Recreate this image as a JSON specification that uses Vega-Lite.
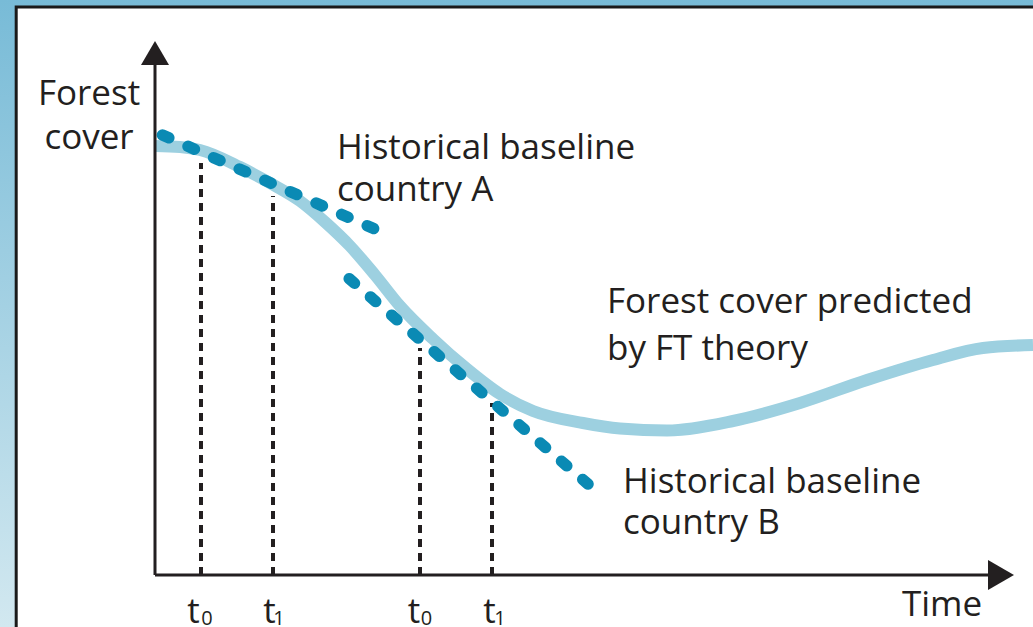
{
  "$schema": "https://vega.github.io/schema/vega-lite/v6.json",
  "width": 1033,
  "height": 627,
  "autosize": {"type": "none"},
  "padding": 0,
  "background": "#ffffff",
  "config": {"view": {"stroke": null}},
  "datasets": {
    "frame": [
      {"part": "background", "t": -15.5, "t2": 87.8, "c": 57.5, "c2": -5.2},
      {"part": "panel", "t": -13.88, "t2": 95, "c": 56.8, "c2": -10}
    ],
    "axes": [
      {"axis": "cover", "t": 0, "t2": 0, "c": 0, "c2": 51.5},
      {"axis": "time", "t": 0, "t2": 84.5, "c": 0, "c2": 0}
    ],
    "arrows": [
      {"axis": "cover", "t": 0, "c": 52.2},
      {"axis": "time", "t": 84.6, "c": 0}
    ],
    "ft": [
      {"t": 0, "c": 42.9}, {"t": 2.5, "c": 42.8}, {"t": 4.5, "c": 42.5}, {"t": 8.5, "c": 40.8},
      {"t": 11.5, "c": 39.2}, {"t": 14.5, "c": 37.4}, {"t": 17.0, "c": 35.3}, {"t": 19.5, "c": 32.9},
      {"t": 22.0, "c": 30.0}, {"t": 24.5, "c": 26.9}, {"t": 27.8, "c": 23.6}, {"t": 31.2, "c": 20.6},
      {"t": 34.5, "c": 18.1}, {"t": 37.8, "c": 16.4}, {"t": 42.8, "c": 15.2}, {"t": 46.5, "c": 14.65},
      {"t": 51.2, "c": 14.45}, {"t": 57.8, "c": 15.4}, {"t": 64.5, "c": 17.2}, {"t": 71.2, "c": 19.5},
      {"t": 77.8, "c": 21.5}, {"t": 82.8, "c": 22.7}, {"t": 87.8, "c": 23.0}
    ],
    "baselines": [
      {"country": "A", "t": 0.74, "c": 44.0}, {"country": "A", "t": 21.96, "c": 34.6},
      {"country": "B", "t": 19.42, "c": 29.63}, {"country": "B", "t": 43.68, "c": 8.77}
    ],
    "marks": [
      {"t": 4.6, "c": 0, "c2": 41.2}, {"t": 11.8, "c": 0, "c2": 37.9},
      {"t": 26.5, "c": 0, "c2": 22.7}, {"t": 33.7, "c": 0, "c2": 17.2}
    ],
    "leftLabels": [
      {"t": 18.2, "c": 41.6, "label": "Historical baseline"},
      {"t": 18.2, "c": 37.4, "label": "country A"},
      {"t": 45.2, "c": 26.2, "label": "Forest cover predicted"},
      {"t": 45.2, "c": 21.5, "label": "by FT theory"},
      {"t": 46.8, "c": 8.2, "label": "Historical baseline"},
      {"t": 46.8, "c": 4.1, "label": "country B"},
      {"t": 74.7, "c": -4.1, "label": "Time"}
    ],
    "centerLabels": [
      {"t": -6.6, "c": 47.0, "label": "Forest"},
      {"t": -6.6, "c": 42.65, "label": "cover"},
      {"t": 3.85, "c": -4.8, "label": "t"},
      {"t": 11.45, "c": -4.8, "label": "t"},
      {"t": 25.9, "c": -4.8, "label": "t"},
      {"t": 33.45, "c": -4.8, "label": "t"}
    ],
    "subs": [
      {"t": 5.2, "c": -5.0, "label": "0"},
      {"t": 12.4, "c": -5.0, "label": "1"},
      {"t": 27.15, "c": -5.0, "label": "0"},
      {"t": 34.5, "c": -5.0, "label": "1"}
    ]
  },
  "encoding": {
    "x": {"field": "t", "type": "quantitative", "scale": {"domain": [-15.5, 87.8], "nice": false, "zero": false}, "axis": null},
    "y": {"field": "c", "type": "quantitative", "scale": {"domain": [-5.2, 57.5], "nice": false, "zero": false}, "axis": null}
  },
  "layer": [
    {
      "data": {"name": "frame"},
      "transform": [{"filter": "datum.part === 'background'"}],
      "mark": {"type": "rect", "fill": {"gradient": "linear", "x1": 0, "y1": 0, "x2": 0, "y2": 1, "stops": [{"offset": 0, "color": "#78bbd7"}, {"offset": 1, "color": "#d2e8f0"}]}},
      "encoding": {"x2": {"field": "t2"}, "y2": {"field": "c2"}}
    },
    {
      "data": {"name": "frame"},
      "transform": [{"filter": "datum.part === 'panel'"}],
      "mark": {"type": "rect", "fill": "#ffffff", "stroke": "#1a1a1a", "strokeWidth": 3},
      "encoding": {"x2": {"field": "t2"}, "y2": {"field": "c2"}}
    },
    {
      "data": {"name": "ft"},
      "mark": {"type": "line", "interpolate": "monotone", "stroke": "#9dd0e0", "strokeWidth": 12, "strokeCap": "butt"}
    },
    {
      "data": {"name": "marks"},
      "mark": {"type": "rule", "stroke": "#231f20", "strokeWidth": 4, "strokeDash": [8, 6]},
      "encoding": {"y2": {"field": "c2"}}
    },
    {
      "data": {"name": "baselines"},
      "mark": {"type": "line", "stroke": "#0a8ab4", "strokeWidth": 11.5, "strokeCap": "round", "strokeDash": [7, 21]},
      "encoding": {"detail": {"field": "country"}}
    },
    {
      "data": {"name": "axes"},
      "mark": {"type": "rule", "stroke": "#231f20", "strokeWidth": 3},
      "encoding": {"x2": {"field": "t2"}, "y2": {"field": "c2"}}
    },
    {
      "data": {"name": "arrows"},
      "transform": [{"filter": "datum.axis === 'cover'"}],
      "mark": {"type": "point", "shape": "triangle-up", "size": 784, "filled": true, "fill": "#231f20", "opacity": 1, "strokeWidth": 0}
    },
    {
      "data": {"name": "arrows"},
      "transform": [{"filter": "datum.axis === 'time'"}],
      "mark": {"type": "point", "shape": "triangle-right", "size": 900, "filled": true, "fill": "#231f20", "opacity": 1, "strokeWidth": 0}
    },
    {
      "data": {"name": "leftLabels"},
      "mark": {"type": "text", "align": "left", "baseline": "alphabetic", "font": "Open Sans", "fontSize": 35, "fill": "#231f20"},
      "encoding": {"text": {"field": "label"}}
    },
    {
      "data": {"name": "centerLabels"},
      "mark": {"type": "text", "align": "center", "baseline": "alphabetic", "font": "Open Sans", "fontSize": 35, "fill": "#231f20"},
      "encoding": {"text": {"field": "label"}}
    },
    {
      "data": {"name": "subs"},
      "mark": {"type": "text", "align": "center", "baseline": "alphabetic", "font": "Open Sans", "fontSize": 20, "fill": "#231f20"},
      "encoding": {"text": {"field": "label"}}
    }
  ]
}
